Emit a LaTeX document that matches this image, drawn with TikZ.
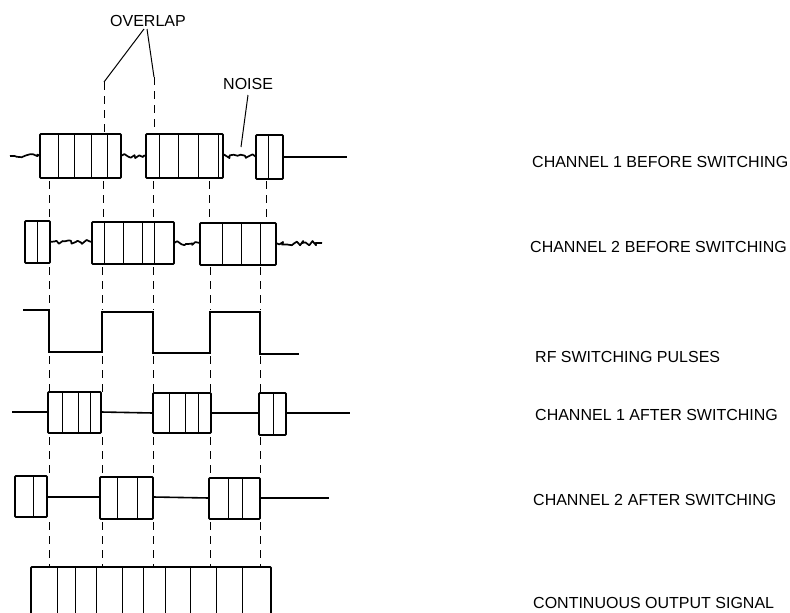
\documentclass[tikz,border=0pt]{standalone}
\usepackage{fontspec}
\setmainfont{Liberation Sans}
\usetikzlibrary{decorations.pathmorphing}
\newcommand{\cellbox}[5]{%
  \draw[boxline] (#1,#3) rectangle (#2,#4);
  \foreach \cx in {#5} {\draw[cellline] (\cx,#3) -- (\cx,#4);}}
\tikzset{
  boxline/.style={line width=1.8pt, rounded corners=0.8pt},
  cellline/.style={line width=0.9pt},
  sigline/.style={line width=1.6pt},
  noiseline/.style={line width=1.7pt, line join=round,
    decorate, decoration={random steps, segment length=2.8pt, amplitude=2.4pt}},
  guide/.style={line width=1pt, dash pattern=on 8pt off 6pt},
  lab/.style={anchor=base west, inner sep=0pt, font=\fontsize{16}{18}\selectfont},
  pointer/.style={line width=1pt}
}
\begin{document}
\begin{tikzpicture}[x=1pt,y=-1pt]
\useasboundingbox (0,0) rectangle (790,613);
\pgfmathsetseed{11}

% labels
\node[lab] (overlap) at (110,27) {OVERLAP};
\node[lab] (noise) at (223,89) {NOISE};
\node[lab] (l1) at (532,167) {CHANNEL 1 BEFORE SWITCHING};
\node[lab] (l2) at (530,252) {CHANNEL 2\hspace{5pt}BEFORE SWITCHING};
\node[lab] (l3) at (535,362) {RF SWITCHING PULSES};
\node[lab] (l4) at (535,420) {CHANNEL 1 AFTER SWITCHING};
\node[lab] (l5) at (533,505) {CHANNEL 2\hspace{5pt}AFTER SWITCHING};
\node[lab] (l6) at (533,608) {CONTINUOUS OUTPUT SIGNAL};

% pointers
\coordinate (ovA) at (144,29);
\coordinate (ovB) at (147,29);
\coordinate (ovL) at (104,82);
\coordinate (ovR) at (154,77);
\draw[pointer] (ovA) -- (ovL);
\draw[pointer] (ovB) -- (ovR);
\coordinate (nzA) at (248,95);
\coordinate (nzB) at (241,147);
\draw[pointer] (nzA) -- (nzB);

% guides from overlap down to channel 1
\draw[guide] (ovL) -- (104,134);
\draw[guide] (ovR) -- (154,134);

% ---- channel 1 before
\draw[noiseline] (10,156) -- (40,156);
\cellbox{40}{121}{134}{178}{58,74,91,107}
\draw[noiseline] (121,156) -- (146,156);
\cellbox{146}{223}{134}{178}{159,178,198,218}
\draw[noiseline] (223,156) -- (256,156);
\cellbox{256}{283}{135}{179}{268}
\draw[sigline] (283,157) -- (347,157);

% guides ch1 -> ch2
\foreach \gx in {49,103,153,209,266} {\draw[guide] (\gx,181) -- (\gx,221);}

% ---- channel 2 before
\cellbox{25}{50}{221}{263}{37}
\draw[noiseline] (50,242) -- (92,242);
\cellbox{92}{174}{222}{264}{104,123,142,154}
\draw[noiseline] (174,243) -- (200,243);
\cellbox{200}{276}{223}{265}{222,241,260}
\draw[noiseline] (276,243) -- (322,243);

% guides ch2 -> pulses
\foreach \gx in {49,102,153,210,260} {\draw[guide] (\gx,267) -- (\gx,310);}

% ---- RF switching pulses
\draw[sigline, line join=miter] (23,310) -- (49,310) -- (49,352) -- (102,352) -- (102,312)
  -- (153,312) -- (153,353) -- (210,353) -- (210,312) -- (260,312) -- (260,354) -- (299,354);

% guides pulses -> ch1 after
\foreach \gx in {49,102,153,210,260} {\draw[guide] (\gx,356) -- (\gx,392);}

% ---- channel 1 after
\draw[sigline] (12,412) -- (48,412);
\cellbox{48}{101}{392}{433}{62,78,90}
\draw[sigline] (101,412) -- (153,413);
\cellbox{153}{211}{393}{433}{169,185,198}
\draw[sigline] (211,413) -- (259,413);
\cellbox{259}{286}{393}{435}{273}
\draw[sigline] (286,413) -- (350,413);

% guides ch1 after -> ch2 after
\foreach \gx in {49,102,153,210,260} {\draw[guide] (\gx,437) -- (\gx,477);}

% ---- channel 2 after
\cellbox{15}{47}{476}{517}{33}
\draw[sigline] (47,497) -- (100,497);
\cellbox{100}{153}{477}{519}{117,137}
\draw[sigline] (153,497) -- (209,498);
\cellbox{209}{260}{478}{519}{228,242}
\draw[sigline] (260,498) -- (329,498);

% guides ch2 after -> output
\foreach \gx in {49,102,153,210,260} {\draw[guide] (\gx,522) -- (\gx,567);}

% ---- continuous output signal
\draw[boxline] (31,616) -- (31,567) -- (271,567) -- (271,616);
\foreach \cx in {57,75,96,122,143,165,190,216,242} {\draw[cellline] (\cx,567) -- (\cx,616);}
\end{tikzpicture}
\end{document}
